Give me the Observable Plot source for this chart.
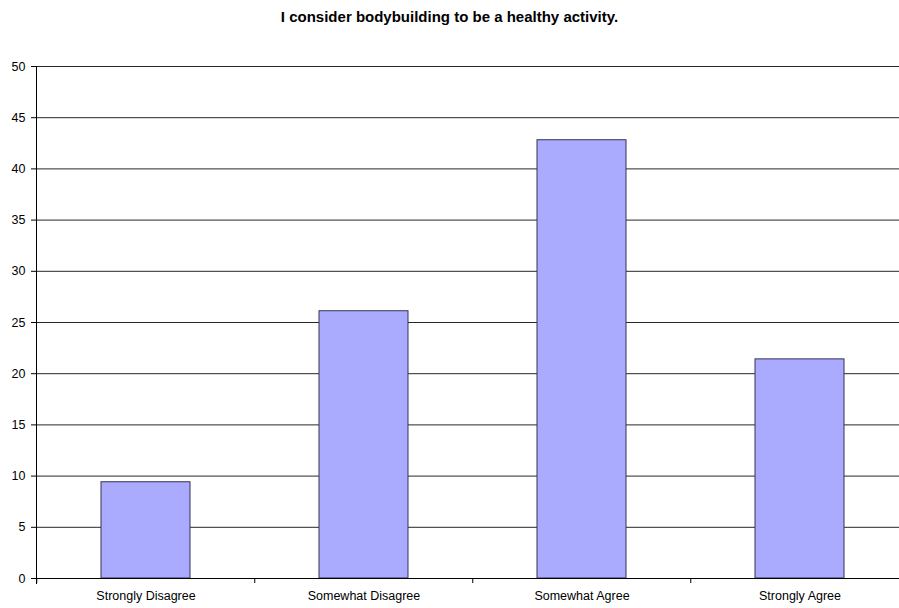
<!DOCTYPE html>
<html>
<head>
<meta charset="utf-8">
<script src="https://cdn.jsdelivr.net/npm/d3@7"></script>
<script src="https://cdn.jsdelivr.net/npm/@observablehq/plot@0.6"></script>
<style>
  html, body { margin: 0; padding: 0; background: #fff; overflow: hidden; }
  #wrap { position: relative; width: 899px; height: 608px; }
  #title {
    position: absolute; left: 0; top: 8px; width: 899px;
    text-align: center; font: bold 15px "Liberation Sans", Arial, sans-serif; color: #000;
  }
</style>
</head>
<body>
<div id="wrap">
  <div id="chart"></div>
  <div id="title">I consider bodybuilding to be a healthy activity.</div>
</div>
<script>
const categories = ["Strongly Disagree", "Somewhat Disagree", "Somewhat Agree", "Strongly Agree"];
const values = [9.4, 26.1, 42.8, 21.4];
const yTicks = [0, 5, 10, 15, 20, 25, 30, 35, 40, 45, 50];

const data = categories.map((c, i) => ({category: c, value: values[i]}));

const W = 899, H = 608;
const mLeft = 36, mRight = -11, mTop = 66, mBottom = 30;
const step = (W - mRight - mLeft) / categories.length;

const chart = Plot.plot({
  width: W,
  height: H,
  marginLeft: mLeft,
  marginRight: mRight,
  marginTop: mTop,
  marginBottom: mBottom,
  style: {fontFamily: "'Liberation Sans', Arial, sans-serif", fontSize: "12.5px", color: "#000", background: "#fff"},
  x: {domain: categories, paddingInner: 0.59, paddingOuter: 0.295, label: null},
  y: {domain: [0, 50], label: null},
  marks: [
    Plot.gridY(yTicks.filter(d => d > 0), {stroke: "#000", strokeOpacity: 0.85}),
    Plot.barY(data, {x: "category", y: "value", fill: "#aaaaff", stroke: "#333355", strokeWidth: 1}),
    Plot.ruleY([0], {stroke: "#000"}),
    Plot.frame({anchor: "left", stroke: "#000", insetBottom: -5}),
    Plot.axisY({ticks: yTicks, tickSize: 5, tickPadding: 6, label: null, fill: "#000"}),
    Plot.axisX({tickSize: 5, text: null, dx: -step / 2, stroke: "#000"}),
    Plot.axisX({tickSize: 0, tickPadding: 13, label: null, fill: "#000"})
  ]
});
document.getElementById("chart").appendChild(chart);
</script>
</body>
</html>
